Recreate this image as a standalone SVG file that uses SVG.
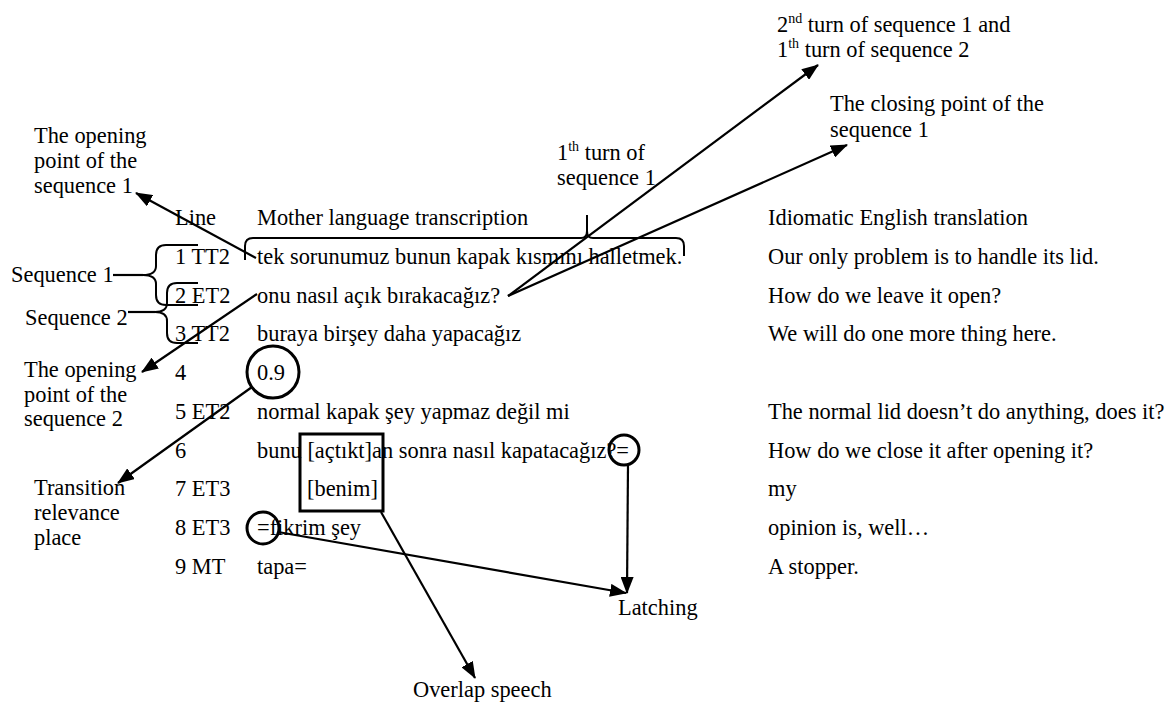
<svg xmlns="http://www.w3.org/2000/svg" width="1174" height="702" viewBox="0 0 1174 702">
<style>
text{font-family:"Liberation Serif","Times New Roman",serif;font-size:22.4px;fill:#000}
.sup{font-size:14px}
.ln{fill:none;stroke:#000;stroke-width:2.2}
.br{fill:none;stroke:#000;stroke-width:2}
.ci{fill:none;stroke:#000;stroke-width:3}
</style>
<defs>
<marker id="ah" markerUnits="userSpaceOnUse" markerWidth="17" markerHeight="13" refX="16" refY="6.5" orient="auto">
<path d="M0,0 L17,6.5 L0,13 z" fill="#000"/>
</marker>
</defs>
<rect width="1174" height="702" fill="#fff"/>

<g id="table">
<text x="175" y="225">Line</text>
<text x="257" y="225">Mother language transcription</text>
<text x="768" y="225">Idiomatic English translation</text>

<text x="175" y="264">1 TT2</text>
<text x="257" y="264">tek sorunumuz bunun kapak kısmını halletmek.</text>
<text x="768" y="264">Our only problem is to handle its lid.</text>

<text x="175" y="302.7">2 ET2</text>
<text x="257" y="302.7">onu nasıl açık bırakacağız?</text>
<text x="768" y="302.7">How do we leave it open?</text>

<text x="175" y="341.4">3 TT2</text>
<text x="257" y="341.4">buraya birşey daha yapacağız</text>
<text x="768" y="341.4">We will do one more thing here.</text>

<text x="175" y="380.1">4</text>
<text x="257" y="380.1">0.9</text>

<text x="175" y="418.8">5 ET2</text>
<text x="257" y="418.8">normal kapak şey yapmaz değil mi</text>
<text x="768" y="418.8">The normal lid doesn’t do anything, does it?</text>

<text x="175" y="457.5">6</text>
<text x="257" y="457.5">bunu [açtıkt]an sonra nasıl kapatacağız?=</text>
<text x="768" y="457.5">How do we close it after opening it?</text>

<text x="175" y="496.2">7 ET3</text>
<text x="307" y="496.2">[benim]</text>
<text x="768" y="496.2">my</text>

<text x="175" y="534.9">8 ET3</text>
<text x="257" y="534.9">=fikrim şey</text>
<text x="768" y="534.9">opinion is, well…</text>

<text x="175" y="573.6">9 MT</text>
<text x="257" y="573.6">tapa=</text>
<text x="768" y="573.6">A stopper.</text>
</g>

<g id="label-open1">
<text x="34" y="143">The opening</text>
<text x="34" y="168">point of the</text>
<text x="34" y="193">sequence 1</text>
</g>
<g id="label-seq1"><text x="11" y="282">Sequence 1</text></g>
<g id="label-seq2"><text x="25" y="325">Sequence 2</text></g>
<g id="label-open2">
<text x="24" y="377">The opening</text>
<text x="24" y="402">point of the</text>
<text x="24" y="426">sequence 2</text>
</g>
<g id="label-trp">
<text x="34" y="495">Transition</text>
<text x="34" y="520">relevance</text>
<text x="34" y="545">place</text>
</g>
<g id="label-turn1">
<text x="557" y="160">1<tspan class="sup" dy="-9">th</tspan><tspan dy="9"> turn of</tspan></text>
<text x="557" y="185">sequence 1</text>
</g>
<g id="label-turn2">
<text x="777" y="32">2<tspan class="sup" dy="-9">nd</tspan><tspan dy="9"> turn of sequence 1 and</tspan></text>
<text x="777" y="57">1<tspan class="sup" dy="-9">th</tspan><tspan dy="9"> turn of sequence 2</tspan></text>
</g>
<g id="label-close1">
<text x="830" y="111">The closing point of the</text>
<text x="830" y="137">sequence 1</text>
</g>
<g id="label-latching"><text x="618" y="615">Latching</text></g>
<g id="label-overlap"><text x="413" y="697">Overlap speech</text></g>

<g id="marks">
<path class="br" d="M245,260 L245,246 Q245,238 253,238 L581,238 Q587,238 587,231 L587,215 L587,231 Q587,238 593,238 L676,238 Q684,238 684,246 L684,256"/>
<path class="br" d="M198,245 L166,245 Q156,245 156,255 L156,266 Q156,275 143,275 Q156,275 156,284 L156,295 Q156,305 166,305 L198,305"/>
<path class="ln" d="M113,275 L143,275" stroke-width="2.6"/>
<path class="br" d="M198,283 L177,283 Q167,283 167,293 L167,303 Q167,312 155,312 Q167,312 167,321 L167,333 Q167,343 177,343 L198,343"/>
<path class="ln" d="M128,312 L155,312" stroke-width="2.6"/>
<circle class="ci" cx="273" cy="372" r="26"/>
<circle class="ci" cx="624" cy="450" r="15"/>
<circle class="ci" cx="263" cy="528" r="16"/>
<rect class="ci" x="300" y="434" width="83" height="77"/>
</g>

<g id="connectors">
<line class="ln" x1="256" y1="258" x2="136" y2="193" marker-end="url(#ah)"/>
<line class="ln" x1="508" y1="296" x2="818" y2="65" marker-end="url(#ah)"/>
<line class="ln" x1="508" y1="296" x2="847" y2="145" marker-end="url(#ah)"/>
<line class="ln" x1="257" y1="294" x2="142" y2="372" marker-end="url(#ah)"/>
<line class="ln" x1="252" y1="387" x2="118" y2="483" marker-end="url(#ah)"/>
<line class="ln" x1="628" y1="465" x2="627" y2="593" marker-end="url(#ah)"/>
<line class="ln" x1="278" y1="532" x2="626" y2="593" marker-end="url(#ah)"/>
<line class="ln" x1="381" y1="512" x2="475" y2="678" marker-end="url(#ah)"/>
</g>
</svg>
